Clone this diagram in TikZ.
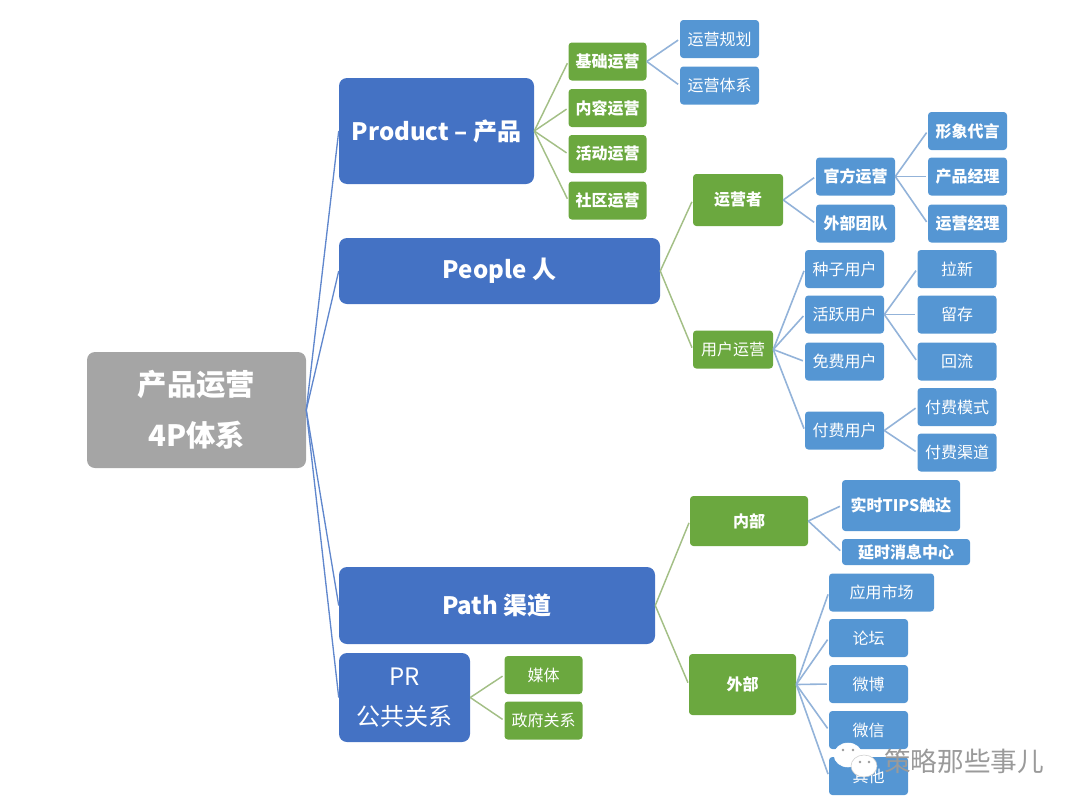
\documentclass[tikz,border=0pt]{standalone}
\usepackage{fontspec}
\setmainfont{Noto Sans CJK SC}
\usetikzlibrary{shapes.geometric}
\definecolor{darkblue}{HTML}{4472C4}
\definecolor{midblue}{HTML}{5596D3}
\definecolor{leafgreen}{HTML}{6BA83F}
\definecolor{rootgray}{HTML}{A5A5A5}
\definecolor{greenline}{HTML}{A3BF86}
\definecolor{blueline}{HTML}{93B3D9}
\definecolor{markgray}{HTML}{9A9A9A}
\tikzstyle{box} = [text=white, inner sep=0pt, align=center, rounded corners=2.5pt, font=\fontsize{12}{14}\selectfont]
\tikzstyle{root} = [box, fill=rootgray, rounded corners=6pt, minimum width=164.25pt, minimum height=87pt, font=\fontsize{22}{38}\selectfont\bfseries]
\tikzstyle{main} = [box, fill=darkblue, rounded corners=6pt, font=\fontsize{18}{22}\selectfont\bfseries]
\tikzstyle{green} = [box, fill=leafgreen, minimum width=58.5pt, minimum height=28.5pt]
\tikzstyle{blue} = [box, fill=midblue, minimum width=59.25pt, minimum height=28.5pt]
\tikzstyle{strong} = [font=\fontsize{12}{14}\selectfont\bfseries]
\tikzstyle{glink} = [draw=greenline, line width=1.1pt, shorten >=1.5pt]
\tikzstyle{blink} = [draw=blueline, line width=1.2pt, shorten >=1.5pt]
\tikzstyle{rlink} = [draw=darkblue!85!white, line width=1pt]
\tikzstyle{bubble} = [ellipse, fill=white, draw=white, inner sep=0pt, minimum width=19.5pt, minimum height=16.5pt]
\tikzstyle{eye} = [circle, fill=markgray, inner sep=0pt, minimum size=2pt]

\begin{document}
\begin{tikzpicture}[x=0.75pt, y=-0.75pt]
	\useasboundingbox (0, 0) rectangle (1080, 810);
	\node[root](system) at (196.5, 410){产品运营\\4P体系};
	\node[main, minimum width=146.25pt, minimum height=79.5pt](product) at (436.5, 131){Product – 产品};
	\node[main, minimum width=240.75pt, minimum height=49.5pt](people) at (499.5, 271){People 人};
	\node[main, minimum width=237pt, minimum height=57.75pt](path) at (497, 605.5){Path 渠道};
	\node[main, minimum width=98.25pt, minimum height=66.75pt, font=\fontsize{18}{30}\selectfont](pr) at (404.5, 697.5){PR\\公共关系};
	\node[green, strong](basic) at (607.5, 61.5){基础运营};
	\node[green, strong](content) at (607.5, 108){内容运营};
	\node[green, strong](activity) at (607.5, 154){活动运营};
	\node[green, strong](community) at (607.5, 200.5){社区运营};
	\node[blue](plan) at (719.5, 39){运营规划};
	\node[blue](frame) at (719.5, 85.5){运营体系};
	\node[green, strong, minimum width=67.5pt, minimum height=39pt](operator) at (738, 200){运营者};
	\node[blue, strong](official) at (855.5, 176.5){官方运营};
	\node[blue, strong](team) at (855.5, 223.5){外部团队};
	\node[blue, strong](image) at (967.5, 131){形象代言};
	\node[blue, strong](manager) at (967.5, 176.5){产品经理};
	\node[blue, strong](runner) at (967.5, 223.5){运营经理};
	\node[green, minimum width=60pt](useroper) at (733, 349.5){用户运营};
	\node[blue](seed) at (844.5, 269){种子用户};
	\node[blue](active) at (844.5, 314.5){活跃用户};
	\node[blue](free) at (844.5, 361.5){免费用户};
	\node[blue](paid) at (844.5, 430.5){付费用户};
	\node[blue](acquire) at (957, 269){拉新};
	\node[blue](retain) at (957, 314.5){留存};
	\node[blue](reflow) at (957, 361.5){回流};
	\node[blue](paymode) at (957, 407){付费模式};
	\node[blue](paychannel) at (957, 452.5){付费渠道};
	\node[green, strong, minimum width=88.5pt, minimum height=37.5pt](inner) at (749, 521){内部};
	\node[green, strong, minimum width=80.25pt, minimum height=45.75pt](outer) at (742.5, 684.5){外部};
	\node[blue, strong, minimum width=88.5pt, minimum height=38.25pt](tips) at (901, 505.5){实时TIPS触达};
	\node[blue, strong, minimum width=96pt, minimum height=19.5pt](center) at (906, 552){延时消息中心};
	\node[blue, minimum width=78.75pt](market) at (881.5, 592.5){应用市场};
	\node[blue](forum) at (868.5, 638){论坛};
	\node[blue](weibo) at (868.5, 684){微博};
	\node[blue](wechat) at (868.5, 730){微信};
	\node[blue](other) at (868.5, 776){其他};
	\node[green](media) at (543.5, 675){媒体};
	\node[green](gov) at (543.5, 720.5){政府关系};
	\draw[rlink](system.east) -- (product.west);
	\draw[rlink](system.east) -- (people.west);
	\draw[rlink](system.east) -- (path.west);
	\draw[rlink](system.east) -- (pr.west);
	\draw[glink](product.east) -- (basic.west);
	\draw[glink](product.east) -- (content.west);
	\draw[glink](product.east) -- (activity.west);
	\draw[glink](product.east) -- (community.west);
	\draw[blink](basic.east) -- (plan.west);
	\draw[blink](basic.east) -- (frame.west);
	\draw[glink](people.east) -- (operator.west);
	\draw[glink](people.east) -- (useroper.west);
	\draw[blink](operator.east) -- (official.west);
	\draw[blink](operator.east) -- (team.west);
	\draw[blink](official.east) -- (image.west);
	\draw[blink](official.east) -- (manager.west);
	\draw[blink](official.east) -- (runner.west);
	\draw[blink](useroper.east) -- (seed.west);
	\draw[blink](useroper.east) -- (active.west);
	\draw[blink](useroper.east) -- (free.west);
	\draw[blink](useroper.east) -- (paid.west);
	\draw[blink](active.east) -- (acquire.west);
	\draw[blink](active.east) -- (retain.west);
	\draw[blink](active.east) -- (reflow.west);
	\draw[blink](paid.east) -- (paymode.west);
	\draw[blink](paid.east) -- (paychannel.west);
	\draw[glink](path.east) -- (inner.west);
	\draw[glink](path.east) -- (outer.west);
	\draw[blink](inner.east) -- (tips.west);
	\draw[blink](inner.east) -- (center.west);
	\draw[blink](outer.east) -- (market.west);
	\draw[blink](outer.east) -- (forum.west);
	\draw[blink](outer.east) -- (weibo.west);
	\draw[blink](outer.east) -- (wechat.west);
	\draw[blink](outer.east) -- (other.west);
	\draw[glink](pr.east) -- (media.west);
	\draw[glink](pr.east) -- (gov.west);
	\node[bubble, minimum width=21pt, minimum height=18pt](bubblea) at (848, 755){};
	\node[eye] at (843, 750){};
	\node[eye] at (853, 750){};
	\node[bubble, draw=markgray!50](bubbleb) at (864, 766){};
	\node[eye] at (860, 762){};
	\node[eye] at (869, 762){};
	\node[text=markgray, font=\fontsize{20}{24}\selectfont](mark) at (964, 761){策略那些事儿};
\end{tikzpicture}
\end{document}
